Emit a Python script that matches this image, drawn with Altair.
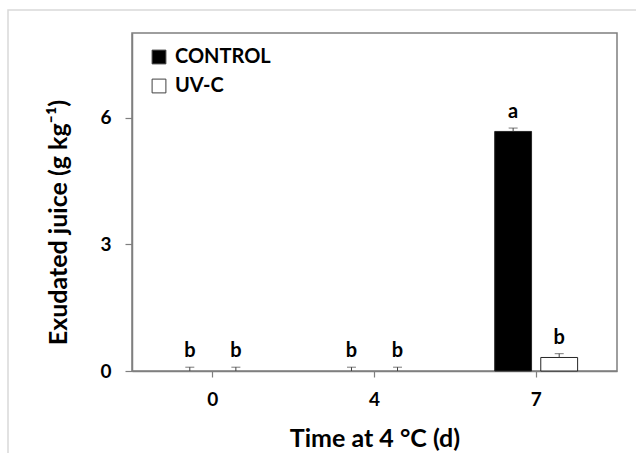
import altair as alt
import pandas as pd

days = ["0", "4", "7"]
treatments = ["CONTROL", "UV-C"]
control_mean = [0.0, 0.0, 5.67]
uvc_mean = [0.0, 0.0, 0.32]
control_err = [0.09, 0.09, 0.08]
uvc_err = [0.09, 0.09, 0.09]
control_letters = ["b", "b", "a"]
uvc_letters = ["b", "b", "b"]

rows = []
for i, d in enumerate(days):
    rows.append({"day": d, "treatment": "CONTROL", "mean": control_mean[i],
                 "upper": control_mean[i] + control_err[i], "letter": control_letters[i]})
    rows.append({"day": d, "treatment": "UV-C", "mean": uvc_mean[i],
                 "upper": uvc_mean[i] + uvc_err[i], "letter": uvc_letters[i]})
df = pd.DataFrame(rows)

FONT = "Lato"
AXIS_COLOR = "#7f7f7f"

x_enc = alt.X("day:N", sort=days,
              scale=alt.Scale(paddingInner=0, paddingOuter=0),
              axis=alt.Axis(title="Time at 4 °C (d)", labelAngle=0, tickSize=6,
                            labelPadding=13, titlePadding=17, domain=True))
xoff = alt.XOffset("treatment:N", sort=treatments,
                   scale=alt.Scale(paddingInner=0.2, paddingOuter=0.855))
y_scale = alt.Scale(domain=[0, 8], nice=False, zero=True)

bars = alt.Chart(df).transform_filter("datum.mean > 0").mark_bar(
    stroke="#262626", strokeWidth=1).encode(
    x=x_enc,
    xOffset=xoff,
    y=alt.Y("mean:Q", scale=y_scale,
            axis=alt.Axis(values=[0, 3, 6], title="Exudated juice (g kg⁻¹)",
                          grid=False, tickSize=7, labelPadding=14, titlePadding=28,
                          titleY=189)),
    fill=alt.Fill("treatment:N", sort=treatments,
                  scale=alt.Scale(domain=treatments, range=["#000000", "#ffffff"]),
                  legend=alt.Legend(title=None, orient="none", legendX=17, legendY=14,
                                    symbolType="square", symbolSize=190,
                                    symbolStrokeColor="#404040", symbolStrokeWidth=1,
                                    labelFontSize=20, labelFont=FONT, labelFontWeight="bold",
                                    labelColor="#000000", rowPadding=9, labelOffset=6)),
)

rules = alt.Chart(df).mark_rule(color="#404040", strokeWidth=1).encode(
    x=alt.X("day:N", sort=days), xOffset=xoff,
    y=alt.Y("mean:Q", scale=y_scale), y2="upper:Q",
)
caps = alt.Chart(df).mark_tick(color="#404040", thickness=1, size=9).encode(
    x=alt.X("day:N", sort=days), xOffset=xoff,
    y=alt.Y("upper:Q", scale=y_scale),
)
letters = alt.Chart(df).mark_text(baseline="alphabetic", dy=-10, fontSize=20,
                                  font=FONT, fontWeight="bold", color="#000000").encode(
    x=alt.X("day:N", sort=days), xOffset=xoff,
    y=alt.Y("upper:Q", scale=y_scale),
    text="letter:N",
)

border = alt.Chart(alt.Data(values=[{"a": 1}])).mark_rect(
    fill=None, stroke="#d9d9d9", strokeWidth=1.5
).encode(x=alt.value(-124), x2=alt.value(520), y=alt.value(-23), y2=alt.value(500))

chart = alt.layer(border, bars, rules, caps, letters).properties(
    width=485, height=338,
    autosize=alt.AutoSizeParams(type="none"),
    padding={"left": 132, "top": 33, "right": 19, "bottom": 82},
).configure(
    font=FONT,
).configure_view(
    stroke=AXIS_COLOR, strokeWidth=1.5
).configure_axis(
    domainColor=AXIS_COLOR, domainWidth=1.5, tickColor=AXIS_COLOR, tickWidth=1.2,
    labelFont=FONT, labelFontSize=19, labelFontWeight="bold", labelColor="#000000",
    titleFont=FONT, titleFontSize=25, titleFontWeight="bold", titleColor="#000000",
)

chart.save("out.html", embed_options={"renderer": "svg", "actions": False})
